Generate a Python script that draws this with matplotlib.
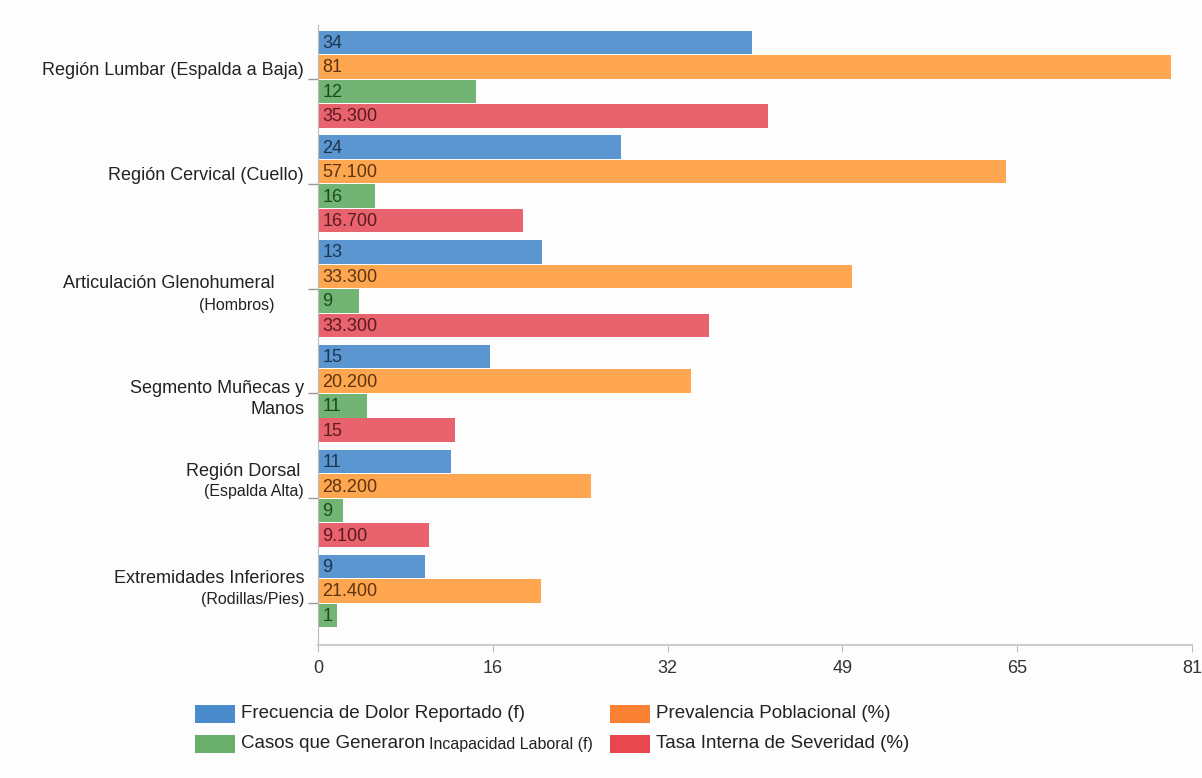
import matplotlib
matplotlib.use("Agg")
import matplotlib.pyplot as plt
from matplotlib.patches import Rectangle
import numpy as np

plt.rcParams['font.family'] = ['Liberation Sans', 'DejaVu Sans']

# data
regiones = ["Región Lumbar (Espalda a Baja)", "Región Cervical (Cuello)",
            "Articulación Glenohumeral (Hombros)", "Segmento Muñecas y Manos",
            "Región Dorsal (Espalda Alta)", "Extremidades Inferiores (Rodillas/Pies)"]
series = ["Frecuencia de Dolor Reportado (f)", "Prevalencia Poblacional (%)",
          "Casos que Generaron Incapacidad Laboral (f)", "Tasa Interna de Severidad (%)"]

# bar lengths as drawn on the axis
frecuencia = [40.2, 28.1, 20.8, 15.9, 12.3, 9.9]
prevalencia = [79.1, 63.8, 49.5, 34.6, 25.3, 20.7]
incapacidad = [14.6, 5.3, 3.8, 4.5, 2.3, 1.8]
severidad = [41.7, 19.0, 36.2, 12.7, 10.3, 0]

# labels printed inside the bars
lab_frecuencia = ["34", "24", "13", "15", "11", "9"]
lab_prevalencia = ["81", "57.100", "33.300", "20.200", "28.200", "21.400"]
lab_incapacidad = ["12", "16", "9", "11", "9", "1"]
lab_severidad = ["35.300", "16.700", "33.300", "15", "9.100", ""]

x_ticks = [0, 16.2, 32.4, 48.6, 64.8, 81]
x_ticklabels = ["0", "16", "32", "49", "65", "81"]

# category label lines: (text, fontsize, dx px, dy px)
cat_lines = [
    [("Región Lumbar (Espalda a Baja)", 13, -14, -9)],
    [("Región Cervical (Cuello)", 13, -14, -8)],
    [("Articulación Glenohumeral", 13, -43, -5), ("(Hombros)", 11.5, -43, 17)],
    [("Segmento Muñecas y", 13, -14, -5), ("Manos", 13, -14, 16)],
    [("Región Dorsal", 13, -18, -27), ("(Espalda Alta)", 11.5, -14, -7)],
    [("Extremidades Inferiores", 13, -13, -25), ("(Rodillas/Pies)", 11.5, -14, -4)],
]

bar_colors = ["#5b96d0", "#ffa650", "#72b473", "#e8636d"]
text_colors = ["#1d3550", "#5a3510", "#1c4a1d", "#5a1a20"]
legend_colors = ["#4a8bcb", "#fa8232", "#6aae6c", "#e8474f"]

W, H = 1202, 778
fig = plt.figure(figsize=(W / 100, H / 100), dpi=100)
fig.patch.set_facecolor("#fdfdfd")
ax = fig.add_axes([318 / W, 1 - 645 / H, (1192 - 318) / W, (645 - 25) / H])
ax.set_facecolor("#fdfdfd")

y = np.arange(len(regiones))
h = 0.234
values = [frecuencia, prevalencia, incapacidad, severidad]
labels = [lab_frecuencia, lab_prevalencia, lab_incapacidad, lab_severidad]
for i, (vals, labs) in enumerate(zip(values, labels)):
    pos = y + (i - 1.5) * h
    ax.barh(pos, vals, height=h * 0.96, color=bar_colors[i], edgecolor="none")
    for p, v, t in zip(pos, vals, labs):
        if t:
            ax.text(0.4, p + 0.01, t, va="center", ha="left", fontsize=13,
                    color=text_colors[i])

ax.set_xlim(0, 81)
ax.set_ylim(5.40, -0.516)
ax.set_xticks(x_ticks)
ax.set_xticklabels(x_ticklabels, fontsize=13, color="#333333")
ax.set_yticks(y)
ax.set_yticklabels([])
ax.tick_params(axis="x", length=5, color="#bbbbbb", pad=6)
ax.tick_params(axis="y", length=7, color="#999999", width=1)

for s in ["top", "right"]:
    ax.spines[s].set_visible(False)
ax.spines["left"].set_color("#bbbbbb")
ax.spines["bottom"].set_color("#cccccc")
ax.spines["bottom"].set_linewidth(1.5)

for yc, lines in zip(y, cat_lines):
    for text, fs, dx, dy in lines:
        ax.annotate(text, xy=(0, yc), xycoords=("axes fraction", "data"),
                    xytext=(dx, -dy), textcoords="offset pixels",
                    ha="right", va="center", fontsize=fs, color="#222222")

# legend, drawn by hand: 2 x 2 grid
leg_x = [195, 610]
leg_y = [714, 744]
slots = [(0, 0), (0, 1), (1, 0), (1, 1)]
fig.canvas.draw()
r = fig.canvas.get_renderer()
for (row, col), name, c in zip(slots, series, legend_colors):
    x0, yc = leg_x[col], leg_y[row]
    fig.add_artist(Rectangle((x0 / W, 1 - (yc + 9) / H), 40 / W, 18 / H,
                             transform=fig.transFigure, facecolor=c, edgecolor="none"))
    tx = x0 + 46
    if "Incapacidad" in name:
        first, rest = name.split("Incapacidad")
        t1 = fig.text(tx / W, 1 - yc / H, first.rstrip(), fontsize=13.5, va="center",
                      ha="left", color="#222222")
        bb = t1.get_window_extent(renderer=r)
        fig.text((bb.x1 + 4) / W, 1 - yc / H, "Incapacidad" + rest, fontsize=11.5,
                 va="center", ha="left", color="#222222")
    else:
        fig.text(tx / W, 1 - yc / H, name, fontsize=13.5, va="center", ha="left",
                 color="#222222")

fig.savefig("out.png", dpi=100, facecolor=fig.get_facecolor())
